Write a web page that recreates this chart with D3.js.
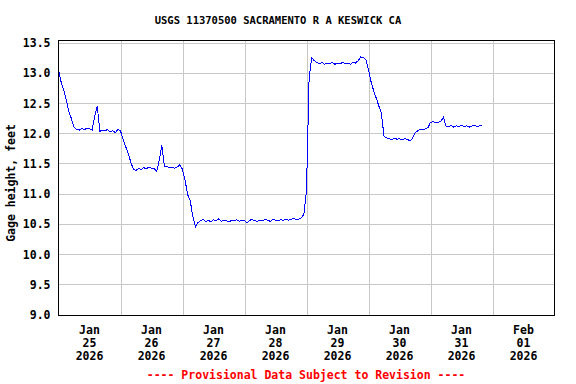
<!DOCTYPE html>
<html>
<head>
<meta charset="utf-8">
<script src="https://cdn.jsdelivr.net/npm/d3@7"></script>
<style>
  body { margin: 0; background: #fff; }
  svg text { font-family: "DejaVu Sans Mono", monospace; font-weight: bold; fill: #000; }
</style>
</head>
<body>
<div id="chart"></div>
<script>
// hourly gage height, feet, starting 2026-01-25 00:00
var startTime = new Date(2026, 0, 25, 0, 0);
var gageHeight = [
    13.05, 12.85, 12.72, 12.55, 12.36, 12.24, 12.10, 12.06, 12.05, 12.08,
    12.06, 12.08, 12.07, 12.05, 12.28, 12.45, 12.03, 12.05, 12.04, 12.06,
    12.02, 12.04, 12.01, 12.06, 12.04, 11.90, 11.78, 11.66, 11.52, 11.40,
    11.38, 11.42, 11.40, 11.43, 11.41, 11.44, 11.42, 11.42, 11.36, 11.55,
    11.80, 11.45, 11.45, 11.43, 11.44, 11.42, 11.44, 11.48, 11.40, 11.22,
    10.98, 10.88, 10.62, 10.45, 10.52,
    10.55, 10.57, 10.54, 10.56, 10.53, 10.57, 10.55, 10.58, 10.54, 10.56,
    10.55, 10.53, 10.56, 10.55, 10.57, 10.54, 10.56, 10.55, 10.52, 10.56,
    10.57, 10.55, 10.54, 10.56, 10.55, 10.57, 10.56, 10.54, 10.58, 10.56,
    10.55, 10.57, 10.56, 10.58, 10.56, 10.57, 10.59, 10.57, 10.58, 10.60,
    10.66, 11.05, 12.90, 13.25,
    13.20, 13.17, 13.15, 13.17, 13.14, 13.16, 13.15, 13.17, 13.14, 13.16,
    13.15, 13.17, 13.15, 13.16, 13.14, 13.17, 13.16, 13.20,
    13.26, 13.25, 13.22, 13.05, 12.85, 12.70, 12.58, 12.45, 12.33, 11.95, 11.92,
    11.91, 11.89, 11.92, 11.90, 11.91, 11.89, 11.91, 11.90, 11.87, 11.91,
    12.00, 12.04, 12.06, 12.06, 12.07, 12.09, 12.18, 12.19, 12.17, 12.18,
    12.20, 12.26, 12.12,
    12.11, 12.13, 12.10, 12.12, 12.11, 12.13, 12.11, 12.12, 12.10, 12.12,
    12.13, 12.11, 12.12, 12.13
];

var yTicks = [9.0, 9.5, 10.0, 10.5, 11.0, 11.5, 12.0, 12.5, 13.0, 13.5];
var xTickMonth = ["Jan", "Jan", "Jan", "Jan", "Jan", "Jan", "Jan", "Feb"];
var xTickDay = ["25", "26", "27", "28", "29", "30", "31", "01"];
var xTickYear = ["2026", "2026", "2026", "2026", "2026", "2026", "2026", "2026"];

var titleText = "USGS 11370500 SACRAMENTO R A KESWICK CA";
var yLabelText = "Gage height, feet";
var footerText = "---- Provisional Data Subject to Revision ----";

var Chart = (function() {

    var width = 576;
    var height = 384;
    var left = 58.5, right = 554.5, top = 40.5, bottom = 315.5;
    var svg, x, y;

    function hoursAfter(h) {
        return new Date(startTime.getTime() + h * 3600 * 1000);
    }

    function drawGrid() {
        var midnights = xTickDay.slice(1).map(function(d, i) { return hoursAfter((i + 1) * 24); });

        svg.append("g")
          .attr("class", "x-grid")
          .attr("transform", "translate(0," + bottom + ")")
          .call(d3.axisBottom(x).tickValues(midnights).tickSize(-(bottom - top)).tickFormat(""))
          .call(function(g) { g.select(".domain").remove(); })
          .selectAll("line")
          .attr("stroke", "#c8c8c8")
          .attr("shape-rendering", "crispEdges");

        var yAxis = svg.append("g")
          .attr("class", "y-axis")
          .attr("transform", "translate(" + left + ",0)")
          .call(d3.axisLeft(y).tickValues(yTicks).tickSize(-(right - left)).tickPadding(8)
                .tickFormat(d3.format(".1f")));
        yAxis.select(".domain").remove();
        yAxis.selectAll("line")
          .attr("stroke", "#c8c8c8")
          .attr("shape-rendering", "crispEdges");
        yAxis.selectAll("text")
          .attr("font-family", null)
          .attr("font-size", null)
          .style("font-size", "11.5px")
          .attr("dy", "0.36em");
    }

    function drawLine() {
        var line = d3.line()
          .x(function(d, i) { return x(hoursAfter(i)); })
          .y(function(d) { return y(d); });

        // aliased 1px line, like the gif plots from the site
        svg.append("path")
          .datum(gageHeight)
          .attr("fill", "none")
          .attr("stroke", "#0000ff")
          .attr("stroke-width", 1)
          .attr("shape-rendering", "crispEdges")
          .attr("d", line);
    }

    function drawFrame() {
        svg.append("rect")
          .attr("x", left)
          .attr("y", top)
          .attr("width", right - left)
          .attr("height", bottom - top)
          .attr("fill", "none")
          .attr("stroke", "#000")
          .attr("stroke-width", 1)
          .attr("shape-rendering", "crispEdges");
    }

    function drawLabels() {
        var labels = svg.append("g").attr("class", "x-labels");
        xTickDay.forEach(function(d, i) {
            var t = labels.append("text")
              .attr("text-anchor", "middle")
              .style("font-size", "11.5px");
            var cx = x(hoursAfter(i * 24 + 12));
            t.append("tspan").attr("x", cx).attr("y", 334).text(xTickMonth[i]);
            t.append("tspan").attr("x", cx).attr("y", 347).text(xTickDay[i]);
            t.append("tspan").attr("x", cx).attr("y", 360).text(xTickYear[i]);
        });

        svg.append("text")
          .attr("x", 278)
          .attr("y", 24)
          .attr("text-anchor", "middle")
          .style("font-size", "10.5px")
          .text(titleText);

        svg.append("text")
          .attr("transform", "translate(15,183) rotate(-90)")
          .attr("text-anchor", "middle")
          .style("font-size", "11.5px")
          .text(yLabelText);

        svg.append("text")
          .attr("x", 306)
          .attr("y", 379)
          .attr("text-anchor", "middle")
          .style("font-size", "11.5px")
          .style("fill", "#ff0000")
          .text(footerText);
    }

    function init(sel) {
        svg = d3.select(sel).append("svg")
          .attr("width", width)
          .attr("height", height);

        x = d3.scaleTime()
          .domain([startTime, hoursAfter(8 * 24)])
          .range([left, right]);
        y = d3.scaleLinear()
          .domain([9.0, 13.5])
          .range([314.5, 42.5]);

        drawGrid();
        drawLine();
        drawFrame();
        drawLabels();
    }

    return {
        "init": init
    };

})();

Chart.init("#chart");
</script>
</body>
</html>
